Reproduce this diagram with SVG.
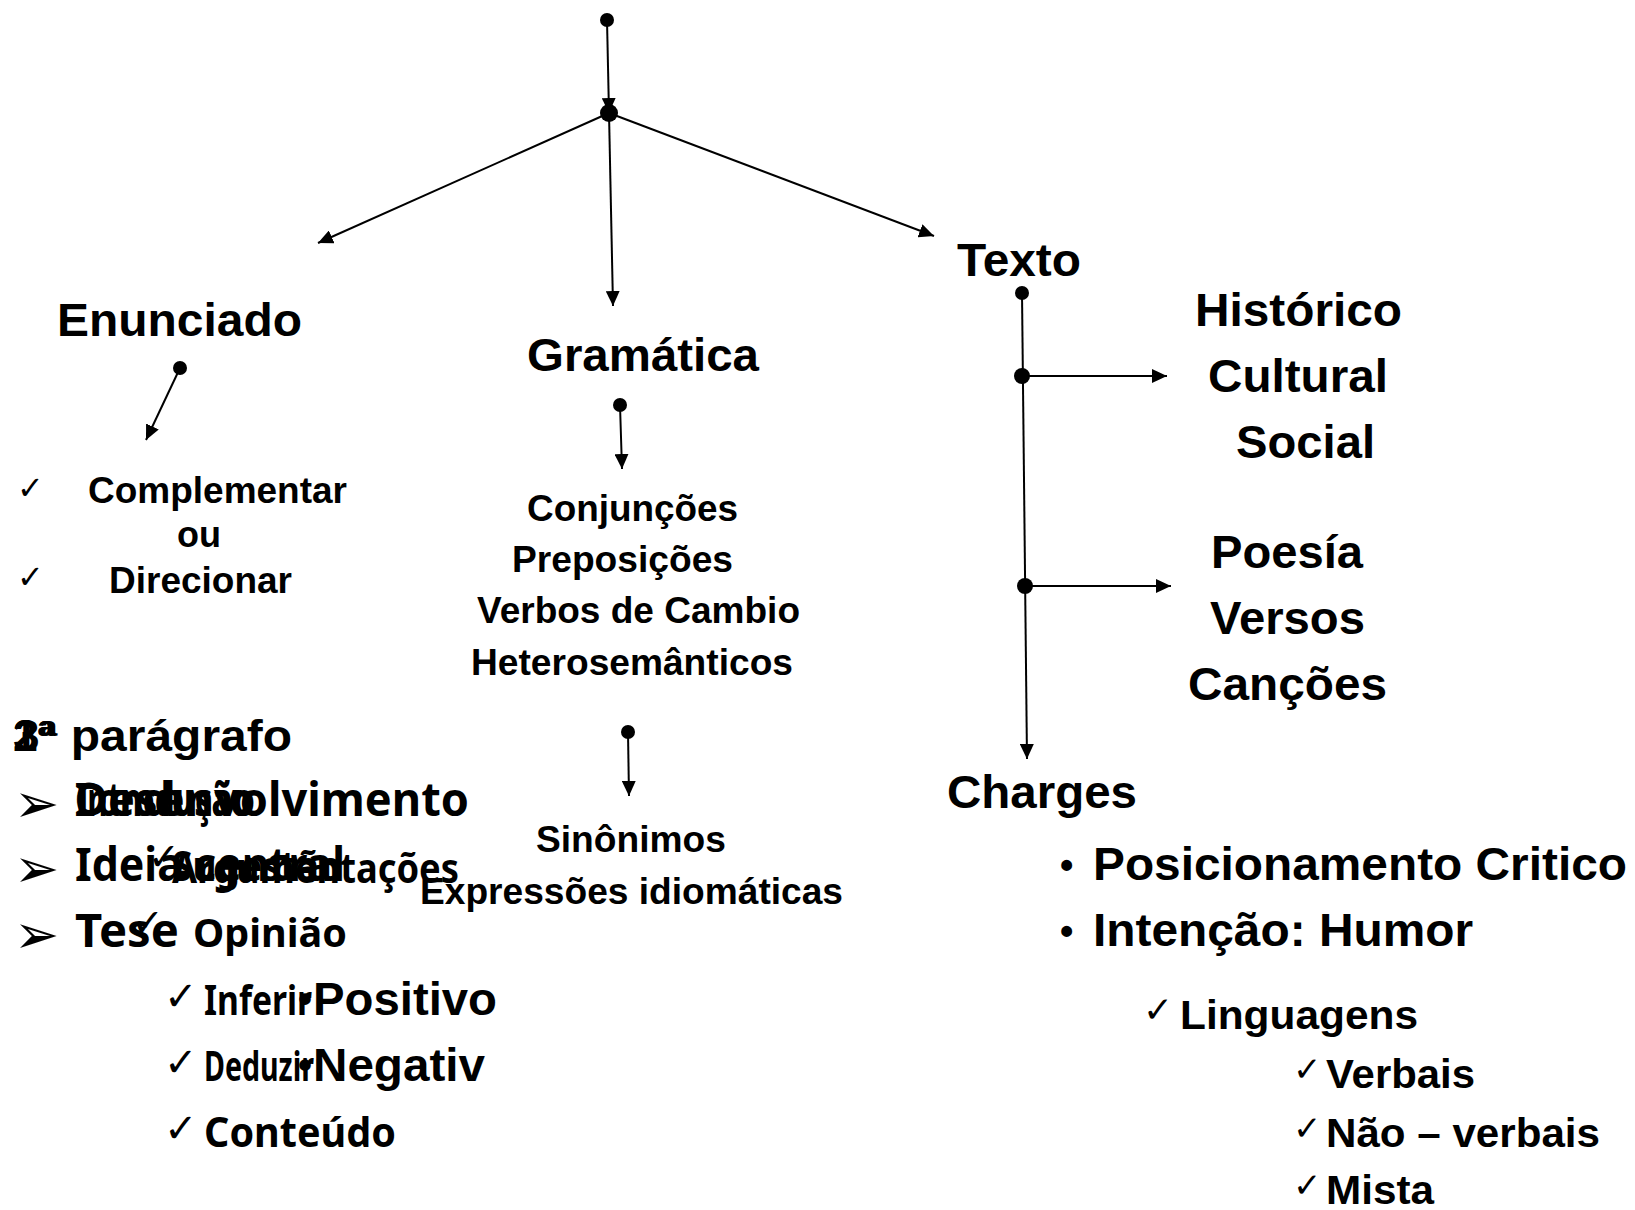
<svg xmlns="http://www.w3.org/2000/svg" width="1635" height="1210" viewBox="0 0 1635 1210">
<style>
.a{font-family:"Liberation Sans",Arial,sans-serif;font-weight:bold;fill:#000}
.c{font-family:"Noto Sans","Open Sans","Liberation Sans",sans-serif;font-weight:bold;fill:#000}
.k{font-family:"DejaVu Sans",sans-serif;font-weight:bold;fill:#000}
.ln{stroke:#000;stroke-width:2;fill:none;marker-end:url(#ah)}
.dot{fill:#000}
</style>
<defs>
<marker id="ah" markerUnits="userSpaceOnUse" markerWidth="16" markerHeight="14" refX="15" refY="7" orient="auto">
<path d="M0,0 L15,7 L0,14 z" fill="#000"/>
</marker>
</defs>
<rect width="1635" height="1210" fill="#fff"/>
<g id="connectors">
<line class="ln" x1="607" y1="20" x2="609" y2="113"/>
<line class="ln" x1="609" y1="113" x2="318" y2="243"/>
<line class="ln" x1="609" y1="113" x2="613" y2="306"/>
<line class="ln" x1="609" y1="113" x2="934" y2="236"/>
<circle class="dot" cx="607" cy="20" r="7"/>
<circle class="dot" cx="609" cy="113" r="9"/>
<line class="ln" x1="180" y1="368" x2="146" y2="440"/>
<circle class="dot" cx="180" cy="368" r="7"/>
<line class="ln" x1="620" y1="405" x2="622" y2="469"/>
<circle class="dot" cx="620" cy="405" r="7"/>
<line class="ln" x1="628" y1="732" x2="629" y2="796"/>
<circle class="dot" cx="628" cy="732" r="7"/>
<line class="ln" x1="1022" y1="293" x2="1027" y2="759"/>
<circle class="dot" cx="1022" cy="293" r="7"/>
<line class="ln" x1="1022" y1="376" x2="1167" y2="376"/>
<circle class="dot" cx="1022" cy="376" r="8"/>
<line class="ln" x1="1025" y1="586" x2="1171" y2="586"/>
<circle class="dot" cx="1025" cy="586" r="8"/>
</g>
<g id="enunciado">
<text class="a" x="57" y="336" font-size="46" textLength="245" lengthAdjust="spacingAndGlyphs">Enunciado</text>
</g>
<g id="enunciado-items">
<text class="k" x="17" y="499" font-size="32" font-weight="normal">✓</text>
<text class="a" x="88" y="503" font-size="36" textLength="259" lengthAdjust="spacingAndGlyphs">Complementar</text>
<text class="a" x="177" y="547" font-size="36">ou</text>
<text class="k" x="17" y="588" font-size="32" font-weight="normal">✓</text>
<text class="a" x="109" y="593" font-size="36" textLength="183" lengthAdjust="spacingAndGlyphs">Direcionar</text>
</g>
<g id="gramatica">
<text class="a" x="527" y="371" font-size="47" textLength="232" lengthAdjust="spacingAndGlyphs">Gramática</text>
</g>
<g id="gramatica-items">
<text class="a" x="527" y="521" font-size="36" textLength="211" lengthAdjust="spacingAndGlyphs">Conjunções</text>
<text class="a" x="512" y="572" font-size="36" textLength="221" lengthAdjust="spacingAndGlyphs">Preposições</text>
<text class="a" x="477" y="623" font-size="36" textLength="323" lengthAdjust="spacingAndGlyphs">Verbos de Cambio</text>
<text class="a" x="471" y="675" font-size="36" textLength="322" lengthAdjust="spacingAndGlyphs">Heterosemânticos</text>
</g>
<g id="gramatica-items2">
<text class="a" x="536" y="852" font-size="36" textLength="190" lengthAdjust="spacingAndGlyphs">Sinônimos</text>
<text class="a" x="420" y="904" font-size="36" textLength="423" lengthAdjust="spacingAndGlyphs">Expressões idiomáticas</text>
</g>
<g id="texto">
<text class="a" x="957" y="276" font-size="46" textLength="124" lengthAdjust="spacingAndGlyphs">Texto</text>
</g>
<g id="historico">
<text class="a" x="1195" y="326" font-size="47" textLength="207" lengthAdjust="spacingAndGlyphs">Histórico</text>
<text class="a" x="1208" y="392" font-size="47" textLength="180" lengthAdjust="spacingAndGlyphs">Cultural</text>
<text class="a" x="1236" y="458" font-size="47" textLength="139" lengthAdjust="spacingAndGlyphs">Social</text>
</g>
<g id="poesia">
<text class="a" x="1211" y="568" font-size="47" textLength="152" lengthAdjust="spacingAndGlyphs">Poesía</text>
<text class="a" x="1210" y="634" font-size="47" textLength="155" lengthAdjust="spacingAndGlyphs">Versos</text>
<text class="a" x="1188" y="700" font-size="47" textLength="199" lengthAdjust="spacingAndGlyphs">Canções</text>
</g>
<g id="charges">
<text class="a" x="947" y="808" font-size="46" textLength="190" lengthAdjust="spacingAndGlyphs">Charges</text>
<text class="a" x="1060" y="878" font-size="38">•</text>
<text class="a" x="1093" y="880" font-size="46" textLength="534" lengthAdjust="spacingAndGlyphs">Posicionamento Critico</text>
<text class="a" x="1060" y="944" font-size="38">•</text>
<text class="a" x="1093" y="946" font-size="46" textLength="380" lengthAdjust="spacingAndGlyphs">Intenção: Humor</text>
<text class="k" x="1143" y="1022" font-size="36">✓</text>
<text class="a" x="1180" y="1029" font-size="40" textLength="238" lengthAdjust="spacingAndGlyphs">Linguagens</text>
<text class="k" x="1293" y="1081" font-size="34">✓</text>
<text class="a" x="1326" y="1088" font-size="40" textLength="149" lengthAdjust="spacingAndGlyphs">Verbais</text>
<text class="k" x="1293" y="1140" font-size="34">✓</text>
<text class="a" x="1326" y="1147" font-size="40" textLength="274" lengthAdjust="spacingAndGlyphs">Não – verbais</text>
<text class="k" x="1293" y="1197" font-size="34">✓</text>
<text class="a" x="1326" y="1204" font-size="40" textLength="108" lengthAdjust="spacingAndGlyphs">Mista</text>
</g>
<g id="paragrafos">
<text class="a" x="13" y="751" font-size="44">1ª</text>
<text class="a" x="13" y="751" font-size="44">2ª</text>
<text class="a" x="13" y="751" font-size="44" textLength="279" lengthAdjust="spacingAndGlyphs">3ª parágrafo</text>
<text class="k" x="14" y="822" font-size="54" font-weight="normal">➢</text>
<text class="c" x="75" y="816" font-size="46" textLength="175" lengthAdjust="spacingAndGlyphs">Introdução</text>
<text class="c" x="75" y="816" font-size="46" textLength="180" lengthAdjust="spacingAndGlyphs">Conclusão</text>
<text class="c" x="75" y="816" font-size="46" textLength="394" lengthAdjust="spacingAndGlyphs">Desenvolvimento</text>
<text class="k" x="14" y="887" font-size="54" font-weight="normal">➢</text>
<text class="c" x="75" y="881" font-size="46" textLength="270" lengthAdjust="spacingAndGlyphs">Ideia central</text>
<text class="k" x="148" y="870" font-size="38">✓</text>
<text class="c" x="172" y="881" font-size="42" textLength="170" lengthAdjust="spacingAndGlyphs">Sugestão</text>
<text class="c" x="172" y="883" font-size="42" textLength="287" lengthAdjust="spacingAndGlyphs">Argumentações</text>
<text class="k" x="14" y="953" font-size="54" font-weight="normal">➢</text>
<text class="c" x="75" y="947" font-size="46" textLength="104" lengthAdjust="spacingAndGlyphs">Tese</text>
<text class="k" x="132" y="936" font-size="38">✓</text>
<text class="c" x="193" y="947" font-size="40" textLength="154" lengthAdjust="spacingAndGlyphs">Opinião</text>
<text class="k" x="164" y="1010" font-size="40">✓</text>
<text class="c" x="204" y="1015" font-size="42" textLength="108" lengthAdjust="spacingAndGlyphs">Inferir</text>
<text class="k" x="164" y="1076" font-size="40">✓</text>
<text class="c" x="204" y="1081" font-size="42" textLength="110" lengthAdjust="spacingAndGlyphs">Deduzir</text>
<text class="k" x="164" y="1142" font-size="40">✓</text>
<text class="c" x="204" y="1147" font-size="42" textLength="192" lengthAdjust="spacingAndGlyphs">Conteúdo</text>
<text class="a" x="298" y="1013" font-size="40">•</text>
<text class="a" x="313" y="1015" font-size="46" textLength="184" lengthAdjust="spacingAndGlyphs">Positivo</text>
<text class="a" x="298" y="1079" font-size="40">•</text>
<text class="a" x="313" y="1081" font-size="46" textLength="172" lengthAdjust="spacingAndGlyphs">Negativ</text>
</g>
</svg>
